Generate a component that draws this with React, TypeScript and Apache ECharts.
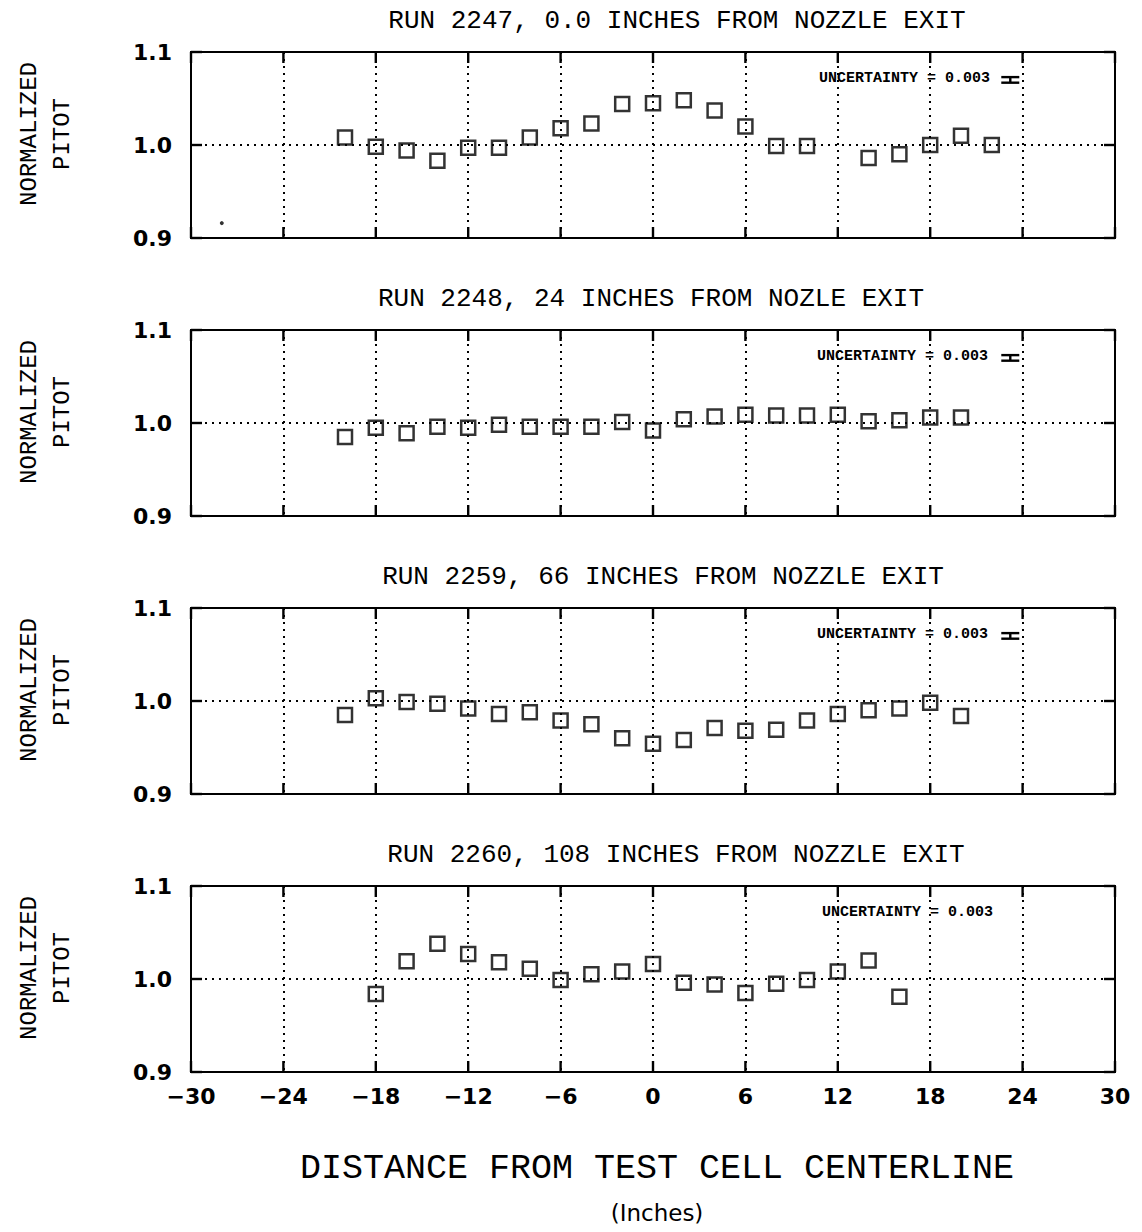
import React, { useEffect, useRef } from "react";
import * as echarts from "echarts";

const panelTitles = [
  "RUN 2247, 0.0 INCHES FROM NOZZLE EXIT",
  "RUN 2248, 24 INCHES FROM NOZLE EXIT",
  "RUN 2259, 66 INCHES FROM NOZZLE EXIT",
  "RUN 2260, 108 INCHES FROM NOZZLE EXIT",
];

const run2247X = [-20, -18, -16, -14, -12, -10, -8, -6, -4, -2, 0, 2, 4, 6, 8, 10, 14, 16, 18, 20, 22];
const run2247Y = [1.008, 0.998, 0.994, 0.983, 0.997, 0.997, 1.008, 1.018, 1.023, 1.044, 1.045, 1.048, 1.037, 1.02, 0.999, 0.999, 0.986, 0.99, 1.0, 1.01, 1.0];

const run2248X = [-20, -18, -16, -14, -12, -10, -8, -6, -4, -2, 0, 2, 4, 6, 8, 10, 12, 14, 16, 18, 20];
const run2248Y = [0.985, 0.995, 0.989, 0.996, 0.995, 0.998, 0.996, 0.996, 0.996, 1.001, 0.992, 1.004, 1.007, 1.009, 1.008, 1.008, 1.009, 1.002, 1.003, 1.006, 1.006];

const run2259X = [-20, -18, -16, -14, -12, -10, -8, -6, -4, -2, 0, 2, 4, 6, 8, 10, 12, 14, 16, 18, 20];
const run2259Y = [0.985, 1.003, 0.999, 0.997, 0.992, 0.986, 0.988, 0.979, 0.975, 0.96, 0.954, 0.958, 0.971, 0.968, 0.969, 0.979, 0.986, 0.99, 0.992, 0.998, 0.984];

const run2260X = [-18, -16, -14, -12, -10, -8, -6, -4, -2, 0, 2, 4, 6, 8, 10, 12, 14, 16];
const run2260Y = [0.984, 1.019, 1.038, 1.027, 1.018, 1.011, 0.999, 1.005, 1.008, 1.016, 0.996, 0.994, 0.985, 0.995, 0.999, 1.008, 1.02, 0.981];

// stray speck on the first panel
const speckX = [-28];
const speckY = [0.916];

const uncertaintyValue = 0.003;
const uncertaintyText = "UNCERTAINTY = 0.003";
const uncertaintyBarX = 23.2;
const uncertaintyBarY = 1.07;
const showUncertaintyBar = [true, true, true, false];

const xTickValues = [-30, -24, -18, -12, -6, 0, 6, 12, 18, 24, 30];
const yTickValues = [0.9, 1.0, 1.1];
const xTicks = { min: -30, max: 30, interval: 6 };
const yTicks = { min: 0.9, max: 1.1, interval: 0.1 };

const yAxisTitle = "NORMALIZED\nPITOT";
const xAxisTitle = "DISTANCE FROM TEST CELL CENTERLINE";
const xAxisUnit = "(Inches)";

const INK = "#000";
const PLOTTER = "'Liberation Mono', 'DejaVu Sans Mono', monospace";

export default function App() {
  const ref = useRef<HTMLDivElement>(null);

  useEffect(() => {
    if (!ref.current) return;
    const chart = echarts.init(ref.current, null, { renderer: "svg" });

    const xs = [run2247X, run2248X, run2259X, run2260X];
    const ys = [run2247Y, run2248Y, run2259Y, run2260Y];
    const tops = [52, 330, 608, 886];
    const gridH = 186;
    const gridLeft = 191;
    const gridRight = 27;
    const titleCenters = [677, 651, 663, 676];
    const uncRight = [990, 988, 988, 993];

    const grids = tops.map((t) => ({
      left: gridLeft,
      right: gridRight,
      top: t,
      height: gridH,
      show: true,
      borderColor: INK,
      borderWidth: 2,
      backgroundColor: "transparent",
    }));

    const dotted = { color: INK, width: 2, type: [2, 5] as any };

    const xAxes: any[] = [];
    const yAxes: any[] = [];
    tops.forEach((_, i) => {
      xAxes.push({
        type: "value",
        gridIndex: i,
        position: "bottom",
        min: xTicks.min,
        max: xTicks.max,
        interval: xTicks.interval,
        axisLine: { show: true, onZero: false, lineStyle: { color: INK, width: 2 } },
        axisTick: { show: false },
        axisLabel: {
          show: i === 3,
          margin: 13,
          color: INK,
          fontFamily: "DejaVu Sans",
          fontWeight: "bold",
          fontSize: 22,
          formatter: (v: number) => (v < 0 ? "\u2212" + Math.abs(v) : String(v)),
        },
        splitLine: { show: true, lineStyle: dotted },
      });
      yAxes.push({
        type: "value",
        gridIndex: i,
        position: "left",
        min: yTicks.min,
        max: yTicks.max,
        interval: yTicks.interval,
        name: yAxisTitle,
        nameLocation: "middle",
        nameRotate: 90,
        nameGap: 112,
        nameTextStyle: {
          color: INK,
          fontFamily: PLOTTER,
          fontSize: 24,
          lineHeight: 33,
          align: "center",
          padding: [0, 0, 0, 22],
        },
        axisLine: { show: true, onZero: false, lineStyle: { color: INK, width: 2 } },
        axisTick: { show: false },
        axisLabel: {
          margin: 19,
          color: INK,
          fontFamily: "DejaVu Sans",
          fontWeight: "bold",
          fontSize: 22,
          formatter: (v: number) => v.toFixed(1),
        },
        splitLine: { show: true, lineStyle: dotted },
      });
    });

    const tickLen = 11;
    const tickStyle = { stroke: INK, lineWidth: 2.4 };

    const series: any[] = [];
    xs.forEach((xArr, i) => {
      // solid inward ticks on top and bottom edges
      series.push({
        type: "custom",
        xAxisIndex: i,
        yAxisIndex: i,
        silent: true,
        clip: false,
        data: xTickValues.map((v) => [v, yTicks.min]),
        renderItem: (params: any, api: any) => {
          const b = api.coord([api.value(0), yTicks.min]);
          const t = api.coord([api.value(0), yTicks.max]);
          return {
            type: "group",
            children: [
              { type: "line", shape: { x1: b[0], y1: b[1], x2: b[0], y2: b[1] - tickLen }, style: tickStyle },
              { type: "line", shape: { x1: t[0], y1: t[1], x2: t[0], y2: t[1] + tickLen }, style: tickStyle },
            ],
          };
        },
        z: 4,
      });
      // solid inward ticks on left and right edges
      series.push({
        type: "custom",
        xAxisIndex: i,
        yAxisIndex: i,
        silent: true,
        clip: false,
        data: yTickValues.map((v) => [xTicks.min, v]),
        renderItem: (params: any, api: any) => {
          const l = api.coord([xTicks.min, api.value(1)]);
          const r = api.coord([xTicks.max, api.value(1)]);
          return {
            type: "group",
            children: [
              { type: "line", shape: { x1: l[0], y1: l[1], x2: l[0] + tickLen, y2: l[1] }, style: tickStyle },
              { type: "line", shape: { x1: r[0], y1: r[1], x2: r[0] - tickLen, y2: r[1] }, style: tickStyle },
            ],
          };
        },
        z: 4,
      });
      series.push({
        type: "scatter",
        xAxisIndex: i,
        yAxisIndex: i,
        symbol: "rect",
        symbolSize: 14,
        itemStyle: { color: "rgba(0,0,0,0)", borderColor: INK, borderWidth: 2.5 },
        data: xArr.map((x, k) => [x, ys[i][k]]),
        z: 5,
      });
      if (showUncertaintyBar[i]) {
        series.push({
          type: "custom",
          xAxisIndex: i,
          yAxisIndex: i,
          silent: true,
          data: [[uncertaintyBarX, uncertaintyBarY, uncertaintyValue]],
          renderItem: (params: any, api: any) => {
            const x = api.value(0);
            const y = api.value(1);
            const e = api.value(2);
            const top = api.coord([x, y + e]);
            const bot = api.coord([x, y - e]);
            const half = 9;
            const st = { stroke: INK, lineWidth: 2.4 };
            return {
              type: "group",
              children: [
                { type: "line", shape: { x1: top[0], y1: top[1], x2: bot[0], y2: bot[1] }, style: st },
                { type: "line", shape: { x1: top[0] - half, y1: top[1], x2: top[0] + half, y2: top[1] }, style: st },
                { type: "line", shape: { x1: bot[0] - half, y1: bot[1], x2: bot[0] + half, y2: bot[1] }, style: st },
              ],
            };
          },
          z: 6,
        });
      }
    });
    series.push({
      type: "scatter",
      xAxisIndex: 0,
      yAxisIndex: 0,
      symbol: "circle",
      symbolSize: 4,
      itemStyle: { color: INK },
      data: speckX.map((x, k) => [x, speckY[k]]),
    });

    const titles: any[] = panelTitles.map((t, i) => ({
      text: t,
      left: titleCenters[i],
      textAlign: "center",
      top: tops[i] - 44,
      padding: 0,
      textStyle: {
        color: INK,
        fontFamily: PLOTTER,
        fontWeight: "normal",
        fontSize: 26,
      },
    }));
    titles.push({
      text: xAxisTitle,
      left: 657,
      textAlign: "center",
      top: 1151,
      padding: 0,
      textStyle: { color: INK, fontFamily: PLOTTER, fontWeight: "normal", fontSize: 35 },
    });
    titles.push({
      text: xAxisUnit,
      left: 657,
      textAlign: "center",
      top: 1201,
      padding: 0,
      textStyle: { color: INK, fontFamily: "DejaVu Sans", fontWeight: "normal", fontSize: 23 },
    });

    const graphic: any[] = tops.map((t, i) => ({
      type: "text",
      x: uncRight[i],
      y: t + 26,
      style: {
        text: uncertaintyText,
        fill: INK,
        align: "right",
        verticalAlign: "middle",
        font: "bold 15px 'Liberation Mono', 'DejaVu Sans Mono', monospace",
      },
      z: 10,
    }));

    chart.setOption({
      animation: false,
      backgroundColor: "#fff",
      title: titles,
      grid: grids,
      xAxis: xAxes,
      yAxis: yAxes,
      series,
      graphic,
    });

    return () => chart.dispose();
  }, []);

  return (
    <div
      ref={ref}
      style={{ position: "fixed", left: 0, top: 0, width: 1142, height: 1232, background: "#fff" }}
    />
  );
}
